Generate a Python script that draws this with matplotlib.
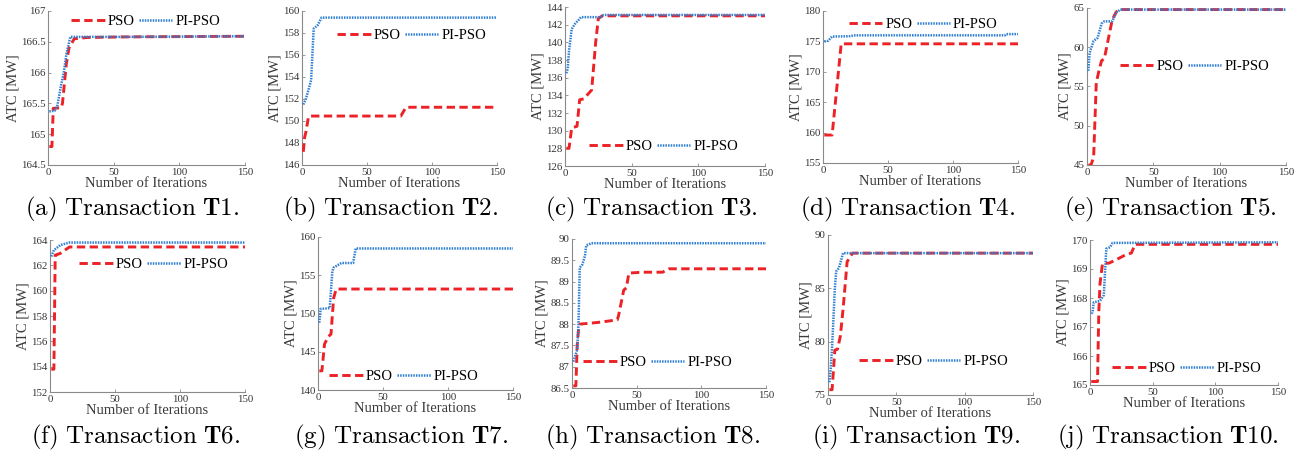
import matplotlib.pyplot as plt
import numpy as np
from matplotlib.ticker import FuncFormatter

# ATC convergence, PSO vs PI-PSO, iteration breakpoints
t1_it_pso = [1, 3, 4, 10, 11, 14, 16, 20, 30, 60, 150]
t1_pso = [164.8, 164.8, 165.42, 165.43, 165.5, 166.15, 166.4, 166.55, 166.57, 166.58, 166.59]
t1_it_pi = [1, 5, 7, 10, 12, 14, 17, 60, 150]
t1_pi = [165.37, 165.38, 165.45, 165.8, 166.0, 166.3, 166.58, 166.58, 166.59]

t2_it_pso = [1, 2, 3, 5, 6, 76, 80, 150]
t2_pso = [147.2, 148.5, 149.0, 150.4, 150.45, 150.45, 151.25, 151.25]
t2_it_pi = [1, 3, 7, 9, 12, 15, 150]
t2_pi = [151.5, 152.0, 153.7, 158.4, 158.7, 159.4, 159.4]

t3_it_pso = [1, 3, 5, 9, 11, 14, 20, 23, 25, 28, 150]
t3_pso = [128.0, 128.0, 130.3, 130.5, 133.5, 133.6, 134.6, 140.0, 142.7, 143.0, 143.0]
t3_it_pi = [1, 2, 3, 5, 8, 10, 12, 27, 29, 150]
t3_pi = [136.5, 137.0, 139.0, 141.5, 142.2, 142.5, 142.85, 142.85, 143.1, 143.1]

t4_it_pso = [1, 7, 10, 14, 150]
t4_pso = [159.6, 159.6, 166.0, 174.6, 174.6]
t4_it_pi = [1, 4, 7, 20, 25, 140, 141, 150]
t4_pi = [175.0, 175.1, 175.8, 175.85, 176.0, 176.0, 176.2, 176.2]

t5_it_pso = [1, 3, 5, 7, 9, 11, 13, 16, 19, 22, 25, 150]
t5_pso = [45.0, 45.0, 46.0, 55.5, 57.0, 58.3, 58.5, 61.0, 63.5, 64.5, 64.8, 64.8]
t5_it_pi = [1, 2, 5, 8, 11, 13, 19, 22, 25, 150]
t5_pi = [57.0, 59.3, 60.8, 61.2, 63.0, 63.3, 63.3, 64.4, 64.8, 64.8]

t6_it_pso = [1, 3, 4, 8, 15, 150]
t6_pso = [153.8, 153.8, 162.8, 162.95, 163.45, 163.45]
t6_it_pi = [1, 3, 8, 15, 150]
t6_pi = [162.7, 163.2, 163.6, 163.8, 163.8]

t7_it_pso = [1, 3, 5, 8, 10, 12, 14, 150]
t7_pso = [142.5, 142.5, 146.0, 147.0, 147.3, 152.0, 153.2, 153.2]
t7_it_pi = [1, 2, 9, 11, 12, 18, 27, 29, 150]
t7_pi = [148.8, 150.6, 150.7, 155.5, 156.0, 156.6, 156.6, 158.5, 158.5]

t8_it_pso = [1, 3, 4, 5, 6, 20, 35, 36, 40, 42, 44, 55, 70, 75, 150]
t8_pso = [86.55, 86.55, 87.5, 87.85, 88.0, 88.04, 88.1, 88.2, 88.8, 88.85, 89.2, 89.22, 89.22, 89.3, 89.3]
t8_it_pi = [1, 4, 5, 6, 8, 10, 11, 15, 150]
t8_pi = [87.12, 87.4, 88.0, 89.33, 89.4, 89.6, 89.85, 89.9, 89.9]

t9_it_pso = [1, 3, 5, 7, 9, 11, 14, 18, 150]
t9_pso = [75.5, 75.5, 79.2, 79.3, 80.5, 83.0, 87.5, 88.3, 88.3]
t9_it_pi = [1, 2, 3, 5, 6, 8, 11, 150]
t9_pi = [76.2, 77.5, 79.5, 85.0, 86.6, 86.9, 88.3, 88.3]

t10_it_pso = [1, 6, 7, 8, 10, 15, 20, 28, 33, 36, 150]
t10_pso = [165.12, 165.12, 167.5, 168.5, 169.2, 169.2, 169.3, 169.48, 169.55, 169.85, 169.85]
t10_it_pi = [1, 2, 3, 8, 11, 13, 16, 18, 150]
t10_pi = [167.47, 167.5, 167.85, 167.9, 168.1, 169.7, 169.75, 169.9, 169.92]

letters = ["a", "b", "c", "d", "e", "f", "g", "h", "i", "j"]
names = ["T1", "T2", "T3", "T4", "T5", "T6", "T7", "T8", "T9", "T10"]
y_ranges = [(164.5, 167, 0.5), (146, 160, 2), (126, 144, 2), (155, 180, 5), (45, 65, 5),
            (152, 164, 2), (140, 160, 5), (86.5, 90, 0.5), (75, 90, 5), (165, 170, 1)]
series = [
    (t1_it_pso, t1_pso, t1_it_pi, t1_pi),
    (t2_it_pso, t2_pso, t2_it_pi, t2_pi),
    (t3_it_pso, t3_pso, t3_it_pi, t3_pi),
    (t4_it_pso, t4_pso, t4_it_pi, t4_pi),
    (t5_it_pso, t5_pso, t5_it_pi, t5_pi),
    (t6_it_pso, t6_pso, t6_it_pi, t6_pi),
    (t7_it_pso, t7_pso, t7_it_pi, t7_pi),
    (t8_it_pso, t8_pso, t8_it_pi, t8_pi),
    (t9_it_pso, t9_pso, t9_it_pi, t9_pi),
    (t10_it_pso, t10_pso, t10_it_pi, t10_pi),
]

# layout in pixels: axes box (left, top, right, bottom), legend centre (axes frac), caption centre
boxes = [(48, 11, 245, 165), (302, 11, 497, 165), (565, 7, 765, 166), (823, 11, 1018, 163),
         (1087, 8, 1286, 165), (50, 240, 245, 392), (318, 237, 513, 390), (572, 239, 766, 388),
         (828, 235, 1033, 395), (1090, 240, 1278, 385)]
legend_pos = [(0.495, 0.935), (0.562, 0.844), (0.493, 0.124), (0.514, 0.913), (0.54, 0.628),
              (0.532, 0.84), (0.44, 0.087), (0.441, 0.173), (0.515, 0.208), (0.515, 0.115)]
captions_xy = [(132, 209), (391, 209), (651, 209), (908, 209), (1170, 209),
               (136, 437), (401, 437), (653, 437), (916, 437), (1168, 437)]

RED = "#ec2227"
BLUE = "#2f7fd3"
W, H = 1301, 451

plt.rcParams["font.family"] = ["Liberation Serif", "DejaVu Serif"]
plt.rcParams["mathtext.fontset"] = "cm"
plt.rcParams["lines.scale_dashes"] = False

fig = plt.figure(figsize=(W / 100, H / 100), dpi=100)

for k in range(10):
    l, t, r, b = boxes[k]
    ax = fig.add_axes([l / W, 1 - b / H, (r - l) / W, (b - t) / H])
    it_pso, pso, it_pi, pi = series[k]
    ax.plot(it_pso, pso, color=RED, lw=2.1, dashes=(6, 3.2), label="PSO", zorder=3)
    ax.plot(it_pi, pi, color=BLUE, lw=1.8, dashes=(1.1, 0.8), label="PI-PSO", zorder=4)

    lo, hi, step = y_ranges[k]
    ax.set_ylim(lo, hi)
    ax.set_yticks(np.arange(lo, hi + step / 2, step))
    ax.yaxis.set_major_formatter(FuncFormatter(lambda v, p: "%g" % round(v, 2)))
    ax.set_xlim(0, 150)
    ax.set_xticks([0, 50, 100, 150])

    for s in ["top", "right"]:
        ax.spines[s].set_visible(False)
    for s in ["left", "bottom"]:
        ax.spines[s].set_color("#8a8a8a")
        ax.spines[s].set_linewidth(0.8)
    ax.tick_params(direction="in", length=2.5, width=0.6, color="#8a8a8a",
                   labelsize=7.8, labelcolor="#333333", pad=2)

    ax.set_xlabel("Number of Iterations", fontsize=10.5, color="#3a3a3a", labelpad=0)
    ax.set_ylabel("ATC [MW]", fontsize=10.5, color="#3a3a3a", labelpad=1)

    ax.legend(loc="center", bbox_to_anchor=legend_pos[k], ncol=2, frameon=False,
              fontsize=10.5, handlelength=2.3, handletextpad=0.2, columnspacing=0.3,
              borderpad=0, borderaxespad=0)

    cx, cy = captions_xy[k]
    fig.text(cx / W, 1 - cy / H,
             r"$\mathrm{(%s)\ Transaction\ }\mathbf{%s}.$" % (letters[k], names[k]),
             ha="center", va="center", fontsize=18)

fig.savefig("out.png", dpi=100)
